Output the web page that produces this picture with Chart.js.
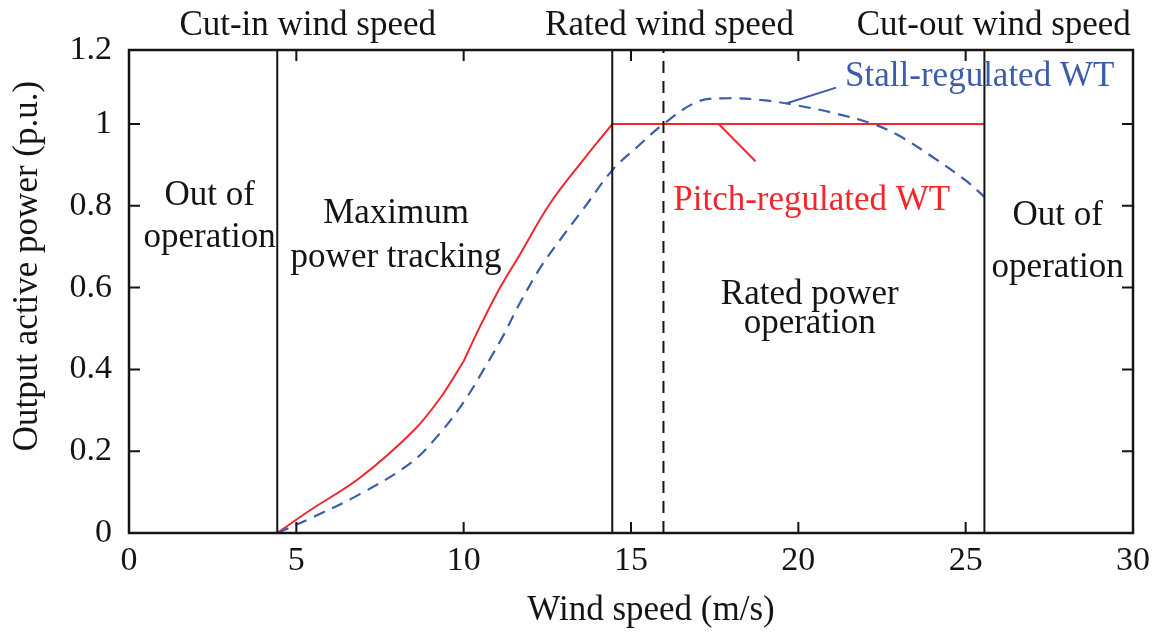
<!DOCTYPE html>
<html><head><meta charset="utf-8">
<script src="https://cdn.jsdelivr.net/npm/chart.js@4/dist/chart.umd.min.js"></script>
<style>html,body{margin:0;padding:0;background:#fff}canvas{display:block}</style>
</head><body>
<canvas id="c" width="1166" height="635"></canvas>
<script>
const FONT = '"Liberation Serif", "DejaVu Serif", serif';

// Pitch-regulated wind turbine power curve (wind speed m/s -> p.u.)
const pitchX = [4.43, 5.4, 6.9, 8.5, 9.3, 10.0, 10.4, 11.0, 11.6, 12.6, 13.6, 14.44, 25.56];
const pitchY = [0, 0.055, 0.135, 0.25, 0.33, 0.42, 0.49, 0.587, 0.67, 0.808, 0.915, 1.0, 1.0];
const pitchKinks = [5, 11]; // indices where the pitch curve has a corner

// Stall-regulated wind turbine power curve
const stallX = [4.43, 5.4, 6.9, 8.4, 9.2, 10.0, 10.6, 11.2, 11.6, 12.3, 13.0, 13.6, 14.46, 15.2, 15.97, 17.0, 17.9, 19.0, 20.0, 21.0, 22.24, 23.0, 24.0, 25.0, 25.56];
const stallY = [0, 0.035, 0.095, 0.17, 0.235, 0.32, 0.4, 0.485, 0.55, 0.65, 0.73, 0.795, 0.889, 0.945, 1.0, 1.055, 1.063, 1.058, 1.045, 1.028, 1.0, 0.972, 0.92, 0.862, 0.822];

// Characteristic wind speeds
const cutInSpeed = 4.43;
const ratedSpeed = 14.44;
const stallRatedSpeed = 15.97;
const cutOutSpeed = 25.56;

// Leader lines for the curve labels
const pitchLeaderX = [17.62, 18.72];
const pitchLeaderY = [1.0, 0.909];
const stallLeaderX = [19.63, 21.13];
const stallLeaderY = [1.05, 1.089];

// Axes
const xMin = 0, xMax = 30, xStep = 5;
const yMax = 1.181;
const yTickValues = [0, 0.2, 0.4, 0.6, 0.8, 1.0, 1.181];
const yTickLabels = ['0', '0.2', '0.4', '0.6', '0.8', '1', '1.2'];
const xTitle = 'Wind speed (m/s)';
const yTitle = 'Output active power (p.u.)';

// Text labels
const topLabels = ['Cut-in wind speed', 'Rated wind speed', 'Cut-out wind speed'];
const regionLabels = [['Out of', 'operation'], ['Maximum', 'power tracking'], ['Rated power', 'operation'], ['Out of', 'operation']];
const curveLabels = ['Stall-regulated WT', 'Pitch-regulated WT'];

const RED = '#f2262b';
const BLUE = '#3d5dab';
const INK = '#141414';

const pts = (xs, ys, a = 0, b = xs.length - 1) => xs.slice(a, b + 1).map((x, i) => ({x, y: ys[a + i]}));
const vline = v => [{x: v, y: 0}, {x: v, y: yMax}];

const redStyle = {borderColor: RED, borderWidth: 2, tension: 0.35};
const pitchBounds = [0, ...pitchKinks, pitchX.length - 1];
const pitchSegments = [];
for (let k = 0; k < pitchBounds.length - 1; k++) {
  pitchSegments.push(Object.assign({data: pts(pitchX, pitchY, pitchBounds[k], pitchBounds[k + 1])}, redStyle));
}

const datasets = [
  {data: vline(cutInSpeed), borderColor: INK, borderWidth: 2},
  {data: vline(ratedSpeed), borderColor: INK, borderWidth: 2},
  {data: vline(stallRatedSpeed), borderColor: INK, borderWidth: 2, borderDash: [12, 8]},
  {data: vline(cutOutSpeed), borderColor: INK, borderWidth: 2},
  {data: pts(stallX, stallY), borderColor: BLUE, borderWidth: 2.2, borderDash: [12, 8], tension: 0.35},
  ...pitchSegments,
  {data: pts(pitchLeaderX, pitchLeaderY), borderColor: RED, borderWidth: 2},
  {data: pts(stallLeaderX, stallLeaderY), borderColor: BLUE, borderWidth: 2},
].map(d => Object.assign({pointRadius: 0, fill: false, tension: 0}, d));

const decor = {
  id: 'decor',
  afterDatasetsDraw(chart) {
    const {ctx, chartArea: a, scales: {x, y}} = chart;
    ctx.save();
    ctx.strokeStyle = INK;
    ctx.lineWidth = 2.5;
    ctx.strokeRect(a.left, a.top, a.right - a.left, a.bottom - a.top);
    ctx.lineWidth = 2;
    const L = 11;
    ctx.beginPath();
    yTickValues.slice(1, -1).forEach(v => {
      const py = y.getPixelForValue(v);
      ctx.moveTo(a.left, py); ctx.lineTo(a.left + L, py);
      ctx.moveTo(a.right, py); ctx.lineTo(a.right - L, py);
    });
    x.ticks.forEach(t => {
      if (t.value <= xMin || t.value >= xMax) return;
      const px = x.getPixelForValue(t.value);
      ctx.moveTo(px, a.bottom); ctx.lineTo(px, a.bottom - L);
      ctx.moveTo(px, a.top); ctx.lineTo(px, a.top + L);
    });
    ctx.stroke();

    ctx.font = '35px ' + FONT;
    ctx.textAlign = 'center';
    ctx.textBaseline = 'alphabetic';
    const X = v => x.getPixelForValue(v), Y = v => y.getPixelForValue(v);
    const lines = (arr, cx, by, lh, color) => {
      ctx.fillStyle = color;
      arr.forEach((s, i) => ctx.fillText(s, cx, by + i * lh));
    };
    // top labels
    ctx.fillStyle = INK;
    ctx.fillText(topLabels[0], X(5.34), 35);
    ctx.fillText(topLabels[1], X(16.15), 35);
    ctx.fillText(topLabels[2], X(25.84), 35);
    // region labels
    lines(regionLabels[0], X(2.41), Y(0.803), 42, INK);
    lines(regionLabels[1], X(7.98), Y(0.757), 44, INK);
    lines(regionLabels[2], X(20.34), Y(0.561), 29, INK);
    lines(regionLabels[3], X(27.75), Y(0.752), 52, INK);
    // curve labels
    lines([curveLabels[0]], X(25.42), Y(1.094), 0, BLUE);
    lines([curveLabels[1]], X(20.40), Y(0.791), 0, RED);
    // axis titles
    ctx.fillStyle = INK;
    ctx.fillText(xTitle, 651, 620);
    ctx.translate(37, 266);
    ctx.rotate(-Math.PI / 2);
    ctx.fillText(yTitle, 0, 0);
    ctx.restore();
  }
};

new Chart(document.getElementById('c'), {
  type: 'line',
  data: {datasets},
  plugins: [decor],
  options: {
    responsive: false,
    animation: false,
    devicePixelRatio: 1,
    layout: {padding: {top: 50, right: 33, left: 0, bottom: 0}},
    plugins: {legend: {display: false}, tooltip: {enabled: false}},
    scales: {
      x: {
        type: 'linear', min: xMin, max: xMax,
        ticks: {stepSize: xStep, color: INK, font: {family: FONT, size: 34}, padding: 8, maxRotation: 0},
        grid: {display: false, drawTicks: false},
        border: {display: false},
        afterFit: s => { s.height = 102; }
      },
      y: {
        type: 'linear', min: 0, max: yMax,
        afterBuildTicks: s => { s.ticks = yTickValues.map(v => ({value: v})); },
        ticks: {color: INK, font: {family: FONT, size: 34}, padding: 17, callback: (v, i) => yTickLabels[i]},
        grid: {display: false, drawTicks: false},
        border: {display: false},
        afterFit: s => { s.width = 129; }
      }
    }
  }
});
</script>
</body></html>
